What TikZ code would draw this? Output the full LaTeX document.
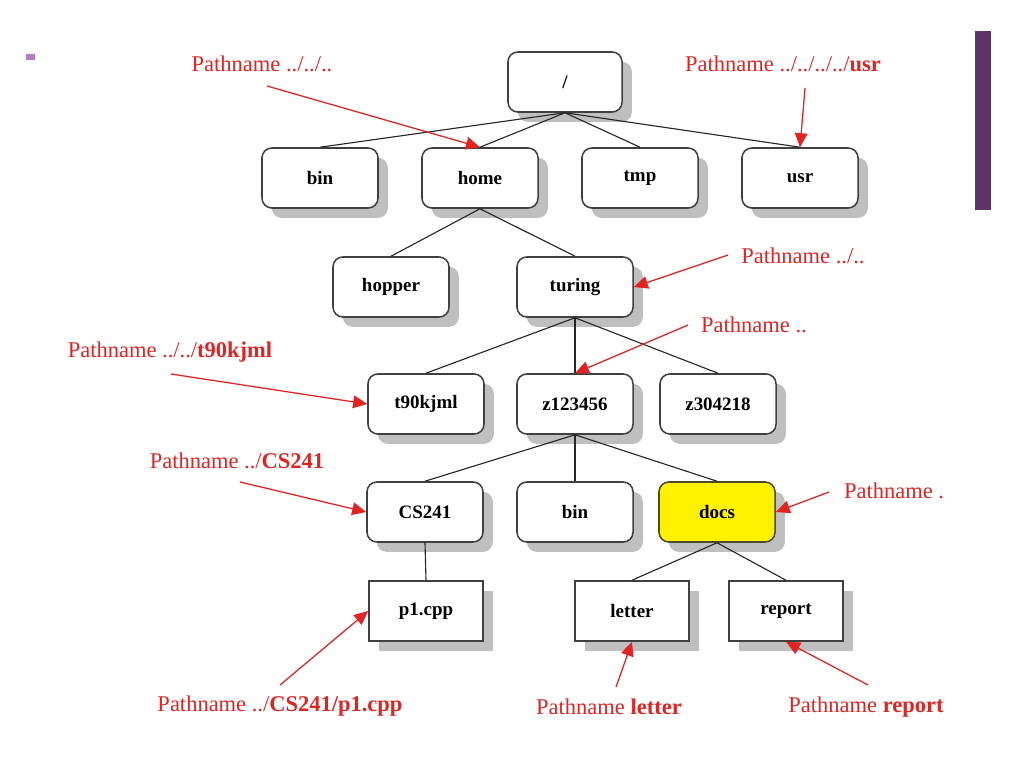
\documentclass[tikz,border=0pt]{standalone}
\usepackage{fontspec}
\setmainfont{Liberation Serif}
\usetikzlibrary{arrows.meta,shadows}
\definecolor{tagpink}{HTML}{B57EC4}
\definecolor{barpurple}{HTML}{5E3366}
\definecolor{pathred}{HTML}{E32222}
\tikzset{
  box/.style={draw=black!75,line width=1.1pt,fill=white,minimum width=2.9cm,minimum height=1.5cm,
    font=\fontsize{13.5}{15}\selectfont\bfseries,
    drop shadow={fill=black!25,opacity=1,shadow xshift=7pt,shadow yshift=-7pt}},
  dir/.style={box,rounded corners=7pt},
  file/.style={box},
  link/.style={black!85,line width=0.8pt},
  ptr/.style={pathred,line width=0.9pt,-{Triangle[length=10pt,width=9pt]}},
  note/.style={text=pathred,font=\fontsize{16}{18}\selectfont}
}
\begin{document}
\begin{tikzpicture}[x=0.025cm,y=-0.025cm]
\useasboundingbox (0,0) rectangle (1024,768);
\fill[tagpink] (26,54) rectangle (35,60);
\fill[barpurple] (975,31) rectangle (991,210);
% directories
\node[dir,minimum width=2.85cm] (root) at (565,82) {/};
\foreach \x/\y/\n/\lab in {320/178/bin/bin,480/178/home/home,640/178/tmp/tmp,800/178/usr/usr,
  391/287/hopper/hopper,575/287/turing/turing,426/404/tkj/t90kjml,575/404/zone/z123456,718/404/zthree/z304218,
  425/512/cs/CS241,575/512/bintwo/bin}
  \node[dir] (\n) at (\x,\y) {\lab};
\node[dir,fill=yellow,draw=black!60!olive] (docs) at (717,512) {docs};
% files
\foreach \x/\y/\n/\lab in {426/611/pone/p1.cpp,632/611/letter/letter,786/611/report/report}
  \node[file,minimum width=2.85cm] (\n) at (\x,\y) {\lab};
% tree edges
\foreach \a/\b in {root/bin,root/home,root/tmp,root/usr,home/hopper,home/turing,turing/tkj,turing/zone,turing/zthree,
  zone/cs,zone/bintwo,zone/docs,cs/pone,docs/letter,docs/report}
  \draw[link] (\a.south) -- (\b.north);
% pathnames
\node[note] (n1) at (262,64) {Pathname ../../..};
\node[note] (n2) at (783,64) {Pathname ../../../../\textbf{usr}};
\node[note] (n3) at (803,256) {Pathname ../..};
\node[note] (n4) at (754,325) {Pathname ..};
\node[note] (n5) at (170,352) {Pathname ../../\textbf{t90kjml}};
\node[note] (n6) at (237,461) {Pathname ../\textbf{CS241}};
\node[note] (n7) at (280,706) {Pathname ../\textbf{CS241/p1.cpp}};
\node[note] (n8) at (894,491) {Pathname .};
\node[note] (n9) at (609,707) {Pathname \textbf{letter}};
\node[note] (n10) at (866,707) {Pathname \textbf{report}};
\coordinate (s1) at (267,86);  \coordinate (s2) at (805,88);
\coordinate (s3) at (728,255); \coordinate (s4) at (688,325);
\coordinate (s5) at (171,374); \coordinate (s6) at (240,482);
\coordinate (s7) at (280,685); \coordinate (s8) at (829,492);
\coordinate (s9) at (616,687); \coordinate (s10) at (868,685);
\foreach \a/\b in {s1/home.north,s2/usr.north,s3/turing.east,s4/zone.north,s5/tkj.west,
  s6/cs.west,s7/pone.west,s8/docs.east,s9/letter.south,s10/report.south}
  \draw[ptr] (\a) -- (\b);
\end{tikzpicture}
\end{document}
